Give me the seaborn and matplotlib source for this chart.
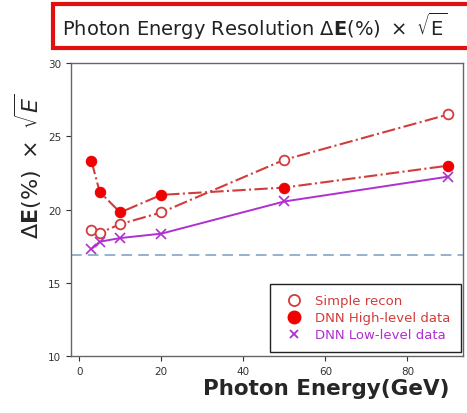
import numpy as np
import pandas as pd
import matplotlib
matplotlib.use("Agg")
import matplotlib.pyplot as plt
from matplotlib.lines import Line2D
from matplotlib.patches import Rectangle
import seaborn as sns

# =====================================================================
# DATA
# =====================================================================
energy = [3, 5, 10, 20, 50, 90]
simple_recon = [18.6, 18.4, 19.0, 19.8, 23.4, 26.5]
dnn_high = [23.3, 21.2, 19.8, 21.0, 21.5, 23.0]
dnn_low = [17.3, 17.8, 18.05, 18.35, 20.55, 22.25]
ref_level = 16.9

series_names = ["Simple recon", "DNN High-level data", "DNN Low-level data"]

df = pd.DataFrame({
    "energy": energy * 3,
    "res": simple_recon + dnn_high + dnn_low,
    "series": [s for s in series_names for _ in energy],
})

# =====================================================================
# STYLE
# =====================================================================
sns.set_theme(style="ticks")
plt.rcParams["font.family"] = ["DejaVu Sans"]
plt.rcParams["mathtext.fontset"] = "dejavusans"

red_line = "#d23c3c"
red_fill = "#f00000"
purple = "#b02fd0"
axis_gray = "#666666"

fig = plt.figure(figsize=(4.67, 4.14), dpi=100)
ax = fig.add_axes([0.152, 0.138, 0.839, 0.707])

# =====================================================================
# PLOT
# =====================================================================
sub = df[df.series == "Simple recon"]
sns.lineplot(data=sub, x="energy", y="res", ax=ax, color=red_line,
             linestyle="-.", linewidth=1.5, marker="o", markersize=7,
             markerfacecolor="white", markeredgecolor=red_line,
             markeredgewidth=1.3)

sub = df[df.series == "DNN High-level data"]
sns.lineplot(data=sub, x="energy", y="res", ax=ax, color=red_line,
             linestyle="-.", linewidth=1.5, marker="o", markersize=7.5,
             markerfacecolor=red_fill, markeredgecolor=red_fill)

sub = df[df.series == "DNN Low-level data"]
sns.lineplot(data=sub, x="energy", y="res", ax=ax, color=purple,
             linestyle="-", linewidth=1.4, marker="x", markersize=7,
             markeredgecolor=purple, markeredgewidth=1.2)

ax.axhline(ref_level, color="#7a9cc0", linestyle=(0, (7, 4)), linewidth=1.1)

ax.set_xlim(-2, 93.5)
ax.set_ylim(10, 30)
ax.set_xticks([0, 20, 40, 60, 80])
ax.set_yticks([10, 15, 20, 25, 30])
ax.tick_params(labelsize=7.5, colors="#333333", length=3.5, width=0.8)
for sp in ax.spines.values():
    sp.set_color(axis_gray)
    sp.set_linewidth(1.0)

ax.set_xlabel("Photon Energy(GeV)", fontsize=15.5, fontweight="bold")
ax.xaxis.set_label_coords(0.965, -0.075)
ax.xaxis.label.set_ha("right")
ax.xaxis.label.set_va("top")
ax.set_ylabel(r"$\Delta\mathbf{E}(\%)\ \times\ \sqrt{\mathit{E}}$", fontsize=16)
ax.yaxis.set_label_coords(-0.068, 0.65)

# legend: markers only, coloured text
handles = [
    Line2D([], [], linestyle="none", marker="o", markersize=8,
           markerfacecolor="white", markeredgecolor=red_line, markeredgewidth=1.3),
    Line2D([], [], linestyle="none", marker="o", markersize=9,
           markerfacecolor=red_fill, markeredgecolor=red_fill),
    Line2D([], [], linestyle="none", marker="x", markersize=6,
           markeredgecolor=purple, markeredgewidth=1.3),
]
leg = ax.legend(handles, series_names, loc="lower right", fontsize=9.5,
                labelcolor=[red_line, red_line, purple], frameon=True,
                fancybox=False, edgecolor="#222222", framealpha=1,
                handletextpad=0.6, borderpad=0.8, labelspacing=0.3,
                borderaxespad=0.3, bbox_to_anchor=(1.005, 0.0))
leg.get_frame().set_linewidth(1.0)

# boxed title (box runs off the right edge, as in the reference)
fig.add_artist(Rectangle((0.113, 0.882), 0.9, 0.106, transform=fig.transFigure,
                         facecolor="white", edgecolor="#e01010", linewidth=3,
                         clip_on=False))
fig.text(0.133, 0.935,
         r"Photon Energy Resolution $\Delta\mathbf{E}(\%)\ \times\ \sqrt{\mathrm{E}}$",
         fontsize=14, ha="left", va="center", color="#222222")

fig.savefig("out.png", dpi=100)
